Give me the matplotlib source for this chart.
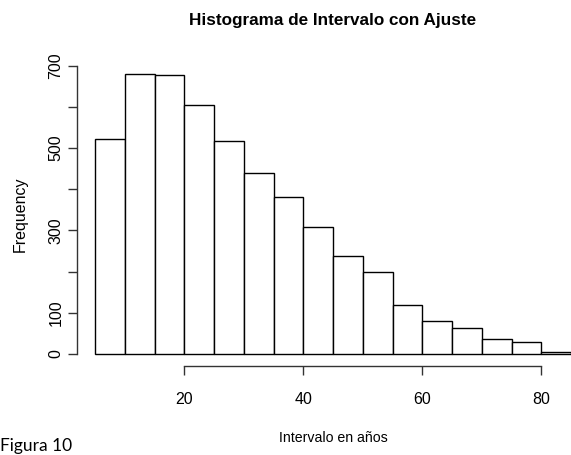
import numpy as np
import matplotlib.pyplot as plt

# histogram of intervals, bins of 5 years
bin_edges = [5, 10, 15, 20, 25, 30, 35, 40, 45, 50, 55, 60, 65, 70, 75, 80, 85]
counts = [522, 681, 678, 605, 517, 439, 381, 309, 238, 200, 119, 79, 63, 37, 28, 5]
x_ticks = [20, 40, 60, 80]
y_ticks = [0, 100, 200, 300, 400, 500, 600, 700]
y_labels = ['0', '100', '', '300', '', '500', '', '700']

W, H = 571, 455
fig = plt.figure(figsize=(W / 100, H / 100), dpi=100)

narrow = ['Liberation Sans Narrow', 'Liberation Sans', 'DejaVu Sans']

# axes placed so that x: 0..85, y: -40..760 map to the picture's pixels
ax = fig.add_axes([65.3 / W, (H - 370.5) / H, (W - 65.3) / W, 329.5 / H])
ax.set_xlim(0, 85)
ax.set_ylim(-40, 760)

lefts = np.array(bin_edges[:-1])
widths = np.diff(bin_edges)
ax.bar(lefts, counts, width=widths, align='edge', facecolor='white',
       edgecolor='black', linewidth=1.0)

for s in ['top', 'right']:
    ax.spines[s].set_visible(False)
ax.spines['left'].set_position(('data', 2.0))
ax.spines['left'].set_bounds(0, 700)
ax.spines['bottom'].set_position(('data', -29))
ax.spines['bottom'].set_bounds(20, 80)
for s in ['left', 'bottom']:
    ax.spines[s].set_linewidth(1.0)
    ax.spines[s].set_color('#333333')

ax.set_xticks(x_ticks)
ax.set_xticklabels([str(v) for v in x_ticks], family=narrow, fontsize=11.5)
ax.set_yticks(y_ticks)
ax.set_yticklabels(y_labels, family=narrow, fontsize=11.5, rotation=90, va='center')
ax.tick_params(axis='both', length=6.5, width=1.0, color='#333333')
ax.tick_params(axis='x', pad=12)
ax.tick_params(axis='y', pad=3.5)

fig.text(333 / W, 1 - 20 / H, 'Histograma de Intervalo con Ajuste', ha='center',
         va='center', family=narrow, fontsize=12.3, fontweight='bold')
fig.text(333 / W, 1 - 438 / H, 'Intervalo en años', ha='center', va='center',
         family=narrow, fontsize=10.2)
fig.text(20 / W, 1 - 214 / H, 'Frequency', ha='center', va='center', rotation=90,
         family=narrow, fontsize=11.5)
fig.text(0.5 / W, 1 - 446 / H, 'Figura 10', ha='left', va='center',
         family=['Lato', 'DejaVu Sans'], fontsize=12.5)

fig.savefig('out.png', dpi=100)
